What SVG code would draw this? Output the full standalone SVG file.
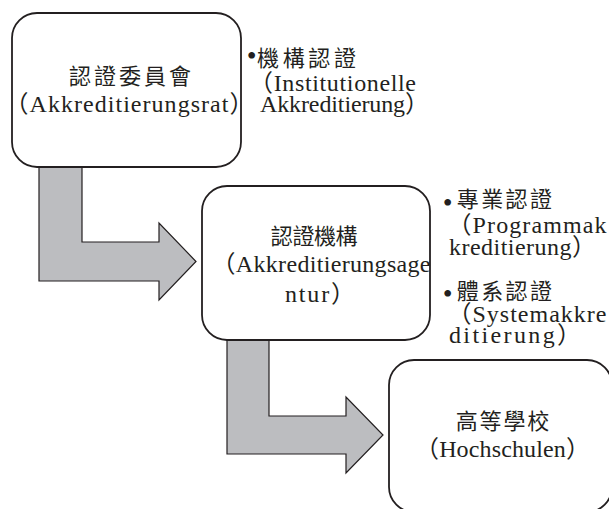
<svg xmlns="http://www.w3.org/2000/svg" width="609" height="509" viewBox="0 0 609 509">
<style>
.box{fill:#ffffff;stroke:#231f20;stroke-width:1.8}
.arrow{fill:#bcbdc0;stroke:#231f20;stroke-width:1.2;stroke-linejoin:miter}
text{font-family:"Liberation Serif","Noto Sans CJK TC",serif;fill:#231f20;font-size:24px}
.cjk{font-family:"Noto Sans CJK TC","Liberation Serif",serif;font-size:22px}
.bul{font-size:28px;text-anchor:middle}
</style>
<rect width="609" height="509" fill="#ffffff"/>
<g id="connectors">
<path class="arrow" d="M39,167 H82 V242 H159 V223 L196,261.5 L159,300 V281 H39 Z"/>
<path class="arrow" d="M227,340 H269 V416 H346 V397 L383,435 L346,473 V454 H227 Z"/>
</g>
<g id="node-akkreditierungsrat">
<rect class="box" x="12" y="13" width="229" height="154" rx="25"/>
<text class="cjk" x="69" y="84" font-size="23" textLength="122" lengthAdjust="spacing">認證委員會</text>
<text x="4.5" y="111.7" textLength="249" lengthAdjust="spacing">（Akkreditierungsrat）</text>
</g>
<g id="note-akkreditierungsrat">
<text class="bul" x="251.7" y="64.5">•</text>
<text class="cjk" x="257" y="65.5" font-size="24" textLength="99" lengthAdjust="spacing">機構認證</text>
<text x="249" y="90.7" textLength="167" lengthAdjust="spacing">（Institutionelle</text>
<text x="260" y="112" textLength="169" lengthAdjust="spacing">Akkreditierung）</text>
</g>
<g id="node-akkreditierungsagentur">
<rect class="box" x="202" y="186" width="228" height="154" rx="25"/>
<text class="cjk" x="270.8" y="243.5" textLength="86.8" lengthAdjust="spacing">認證機構</text>
<text x="211.5" y="271.7" textLength="219" lengthAdjust="spacing">（Akkreditierungsage</text>
<text x="285" y="301.7" textLength="70" lengthAdjust="spacing">ntur）</text>
</g>
<g id="note-akkreditierungsagentur">
<text class="bul" x="447.7" y="211.7">•</text>
<text class="cjk" x="456.8" y="206.8" textLength="95.1" lengthAdjust="spacing">專業認證</text>
<text x="447.5" y="233.3" textLength="159" lengthAdjust="spacing">（Programmak</text>
<text x="449" y="255" textLength="147" lengthAdjust="spacing">kreditierung）</text>
<text class="bul" x="447.7" y="302.7">•</text>
<text class="cjk" x="456.8" y="298.5" textLength="95.1" lengthAdjust="spacing">體系認證</text>
<text x="447.5" y="321.7" textLength="159" lengthAdjust="spacing">（Systemakkre</text>
<text x="449" y="343.3" textLength="132" lengthAdjust="spacing">ditierung）</text>
</g>
<g id="node-hochschulen">
<rect class="box" x="389" y="360" width="223" height="152" rx="25"/>
<text class="cjk" x="455.8" y="428.5" textLength="93.4" lengthAdjust="spacing">高等學校</text>
<text x="415" y="456.7" textLength="175" lengthAdjust="spacing">（Hochschulen）</text>
</g>
</svg>
